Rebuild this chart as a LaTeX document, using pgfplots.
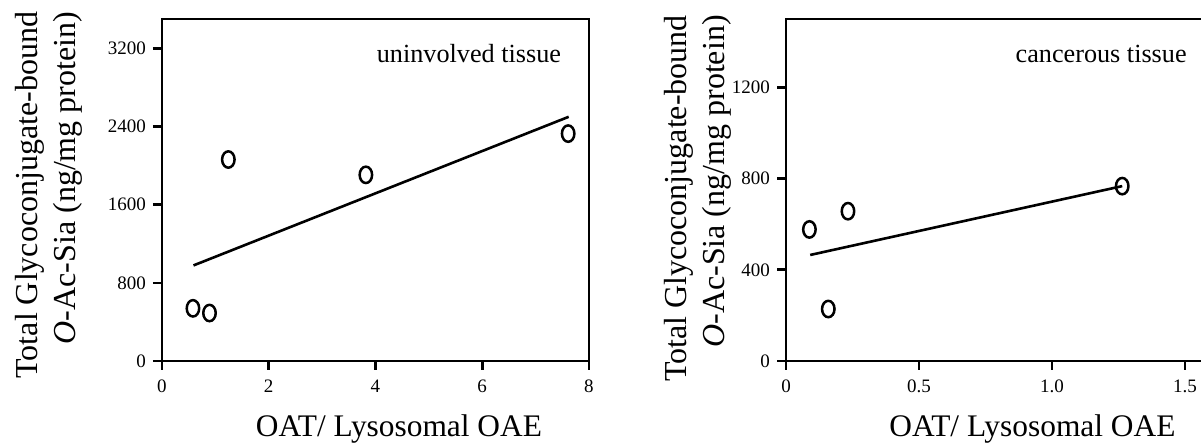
\documentclass[border=0pt]{standalone}
\usepackage{pgfplots}
\pgfplotsset{compat=1.18}
\usepackage{fontspec}
\setmainfont{Liberation Serif}
\begin{document}
\begin{tikzpicture}
\pgfplotsset{
 myax/.style={
  scale only axis, anchor=south west,
  axis line style={line width=1.3pt},
  every tick/.style={line width=1.3pt, black},
  tick align=outside, major tick length=4.5pt,
  xtick pos=bottom, ytick pos=left,
  minor tick num=0,
  tick label style={font=\fontsize{9.5}{11}\selectfont},
  xticklabel style={yshift=-1.5pt},
  /pgf/number format/assume math mode=true,
  /pgf/number format/1000 sep={},
  xlabel style={font=\fontsize{15.7}{18}\selectfont, anchor=base},
  ylabel style={font=\fontsize{16}{19}\selectfont, align=right, anchor=center, rotate=0},
  scat/.style={only marks, mark=o, mark size=4.1pt, mark options={xscale=0.76, line width=1.25pt, black}},
  fit/.style={no marks, line width=1.3pt, black},
 }
}
\begin{axis}[myax,
  at={(81pt,41pt)}, width=213.5pt, height=171pt,
  xmin=0, xmax=8, ymin=0, ymax=3500,
  xtick={0,2,4,6,8}, ytick={0,800,1600,2400,3200},
  xlabel={OAT/ Lysosomal OAE},
  xlabel style={at={(axis description cs:0.555,-0.222)}},
  ylabel={Total Glycoconjugate-bound\\\textit{O}-Ac-Sia (ng/mg protein)},
  ylabel style={at={(axis description cs:-0.266,0.485)}},
]
\addplot[scat] coordinates {(0.58,539) (0.89,491) (1.243,2062) (3.82,1905) (7.61,2327)};
\addplot[fit] coordinates {(0.59,978) (7.62,2499)};
\node[anchor=base east, font=\fontsize{13.1}{15}\selectfont] at (axis description cs:0.951,0.874) {uninvolved tissue};
\end{axis}
\begin{axis}[myax,
  at={(393pt,41pt)}, width=212.8pt, height=171pt,
  xmin=0, xmax=1.6, ymin=0, ymax=1500,
  xtick={0,0.5,1.0,1.5}, xticklabels={0,0.5,1.0,1.5}, ytick={0,400,800,1200},
  xlabel={OAT/ Lysosomal OAE},
  xlabel style={at={(axis description cs:0.579,-0.222)}},
  ylabel={Total Glycoconjugate-bound\\\textit{O}-Ac-Sia (ng/mg protein)},
  ylabel style={at={(axis description cs:-0.206,0.475)}},
]
\addplot[scat] coordinates {(0.088,577) (0.159,228) (0.233,657) (1.264,767)};
\addplot[fit] coordinates {(0.091,465) (1.264,767)};
\node[anchor=base east, font=\fontsize{13.1}{15}\selectfont] at (axis description cs:0.958,0.874) {cancerous tissue};
\end{axis}
\pgfresetboundingbox
\useasboundingbox (0pt,0pt) rectangle (600.5pt,221.5pt);
\end{tikzpicture}
\end{document}
